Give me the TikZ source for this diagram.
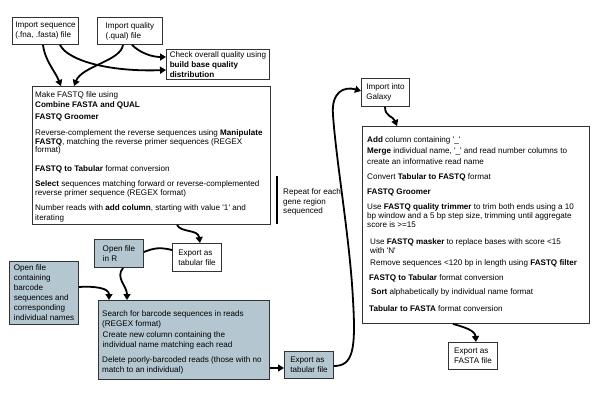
\documentclass[tikz,border=0pt]{standalone}
\usepackage{fontspec}
\newfontfamily\lib{Liberation Sans}
\usetikzlibrary{arrows.meta}
\definecolor{boxblue}{HTML}{B4C7D0}
\begin{document}
\begin{tikzpicture}[x=1pt,y=-1pt,
  box/.style={draw=black!80, line width=0.9pt, inner sep=0pt, anchor=north west, align=left, font=\lib\fontsize{8.1}{10}\selectfont},
  fbox/.style={box, fill=boxblue},
  txt/.style={anchor=base west, inner sep=0pt, font=\lib\fontsize{8.1}{10}\selectfont},
  arr/.style={line width=1.8pt, -{Triangle[length=6pt,width=7pt]}},
  link/.style={line width=1.8pt}]
\useasboundingbox (0,0) rectangle (600,404);

% boxes
\node[box, minimum width=66pt, minimum height=27pt] (seq) at (12,17) {Import sequence\\(.fna, .fasta) file};
\node[box, minimum width=65pt, minimum height=27pt] (qual) at (97,17) {Import quality\\(.qual) file};
\node[box, minimum width=103pt, minimum height=30pt] (check) at (166,49) {Check overall quality using\\\textbf{build base quality}\\\textbf{distribution}};
\node[box, minimum width=238pt, minimum height=138pt] (main) at (32,86) {};
\node[box, minimum width=48pt, minimum height=28pt] (galaxy) at (361,78) {Import into\\Galaxy};
\node[box, minimum width=227pt, minimum height=197pt] (rbox) at (362,126) {};
\node[box, minimum width=49pt, minimum height=27pt] (fasta) at (448,342) {Export as\\FASTA file};
\node[fbox, minimum width=49pt, minimum height=28pt] (openr) at (94,239) {Open file\\in R};
\node[box, minimum width=49pt, minimum height=28pt] (expw) at (172,243) {Export as\\tabular file};
\node[fbox, minimum width=69pt, minimum height=63pt] (barcode) at (9,261) {Open file\\containing\\barcode\\sequences and\\corresponding\\individual names};
\node[fbox, minimum width=171pt, minimum height=79pt] (search) at (98,300) {};
\node[fbox, minimum width=49pt, minimum height=27pt] (expf) at (284,351) {Export as\\tabular file};

% main box text
\node[txt] (m1) at (35,97) {Make FASTQ file using};
\node[txt] (m2) at (35,107) {\textbf{Combine FASTA and QUAL}};
\node[txt] (m3) at (35,120) {\textbf{FASTQ Groomer}};
\node[txt] (m4) at (35,135) {Reverse-complement the reverse sequences using \textbf{Manipulate}};
\node[txt] (m5) at (35,144) {\textbf{FASTQ}, matching the reverse primer sequences (REGEX};
\node[txt] (m6) at (35,152.5) {format)};
\node[txt] (m7) at (35,171) {\textbf{FASTQ to Tabular} format conversion};
\node[txt] (m8) at (35,186) {\textbf{Select} sequences matching forward or reverse-complemented};
\node[txt] (m9) at (35,195) {reverse primer sequence (REGEX format)};
\node[txt] (m10) at (35,210) {Number reads with \textbf{add column}, starting with value '1' and};
\node[txt] (m11) at (35,220) {iterating};

% repeat note
\draw[line width=1.8pt] (277,176) -- (277,224);
\node[txt] (r1) at (283,194) {Repeat for each};
\node[txt] (r2) at (283,204) {gene region};
\node[txt] (r3) at (283,213) {sequenced};

% search box text
\node[txt] (s1) at (102,316) {Search for barcode sequences in reads};
\node[txt] (s2) at (102,326) {(REGEX format)};
\node[txt] (s3) at (102.5,337) {Create new column containing the};
\node[txt] (s4) at (102.5,347) {individual name matching each read};
\node[txt] (s5) at (102,362) {Delete poorly-barcoded reads (those with no};
\node[txt] (s6) at (102,372) {match to an individual)};

% right box text
\node[txt] (g1) at (367,142) {\textbf{Add} column containing '\_'};
\node[txt] (g2) at (367,153) {\textbf{Merge} individual name, '\_' and read number columns to};
\node[txt] (g3) at (367,164) {create an informative read name};
\node[txt] (g4) at (367,179) {Convert \textbf{Tabular to FASTQ} format};
\node[txt] (g5) at (367,194) {\textbf{FASTQ Groomer}};
\node[txt] (g6) at (367,209) {Use \textbf{FASTQ quality trimmer} to trim both ends using a 10};
\node[txt] (g7) at (367,218) {bp window and a 5 bp step size, trimming until aggregate};
\node[txt] (g8) at (367,227) {score is >=15};
\node[txt] (g9) at (370,244) {Use \textbf{FASTQ masker} to replace bases with score <15};
\node[txt] (g10) at (370,253) {with 'N'};
\node[txt] (g11) at (370,265) {Remove sequences <120 bp in length using \textbf{FASTQ filter}};
\node[txt] (g12) at (369,280) {\textbf{FASTQ to Tabular} format conversion};
\node[txt] (g13) at (371,294) {\textbf{Sort} alphabetically by individual name format};
\node[txt] (g14) at (369,311) {\textbf{Tabular to FASTA} format conversion};

% connectors
\draw[arr] ([xshift=31pt]seq.south west) .. controls +(2,16) and +(-6,-15) .. ([xshift=29pt]main.north west);
\draw[arr] ([xshift=48pt]seq.south west) .. controls +(8,16) and +(-56,2) .. ([yshift=-21pt]check.north west);
\draw[arr] ([xshift=26pt]qual.south west) .. controls +(-2,16) and +(8,-20) .. ([xshift=42pt]main.north west);
\draw[arr] ([xshift=35pt]qual.south west) .. controls +(8,8) and +(-14,0) .. ([yshift=-8pt]check.north west);
\draw[arr] ([xshift=145pt]main.south west) .. controls +(4,8) and +(-2,-14) .. ([xshift=28pt]expw.north west);
\draw[link] ([yshift=-7pt]expw.north west) .. controls +(-12,-3) and +(10,-4) .. ([yshift=-13pt]openr.north east);
\draw[arr] ([xshift=29pt]openr.south west) .. controls +(-8,10) and +(0,-14) .. ([xshift=29pt]search.north west);
\draw[arr] ([yshift=-26pt]barcode.north east) .. controls +(16,-1) and +(0,-12) .. ([xshift=11pt]search.north west);
\draw[arr] ([yshift=-68pt]search.north east) -- ([yshift=-17pt]expf.north west);
\draw[arr] ([yshift=-15pt]expf.north east) .. controls +(19,0) and (356,350) .. (353,300)
  .. controls (350,240) and (336,160) .. (333,115)
  .. controls (331,92) and (344,86) .. ([yshift=-13pt]galaxy.north west);
\draw[arr] ([xshift=24pt]galaxy.south west) .. controls +(0,10) and +(-4,-10) .. ([xshift=35pt]rbox.north west);
\draw[arr] ([xshift=91pt]rbox.south west) .. controls +(10,3) and +(-1,-12) .. ([xshift=28pt]fasta.north west);
\end{tikzpicture}
\end{document}
